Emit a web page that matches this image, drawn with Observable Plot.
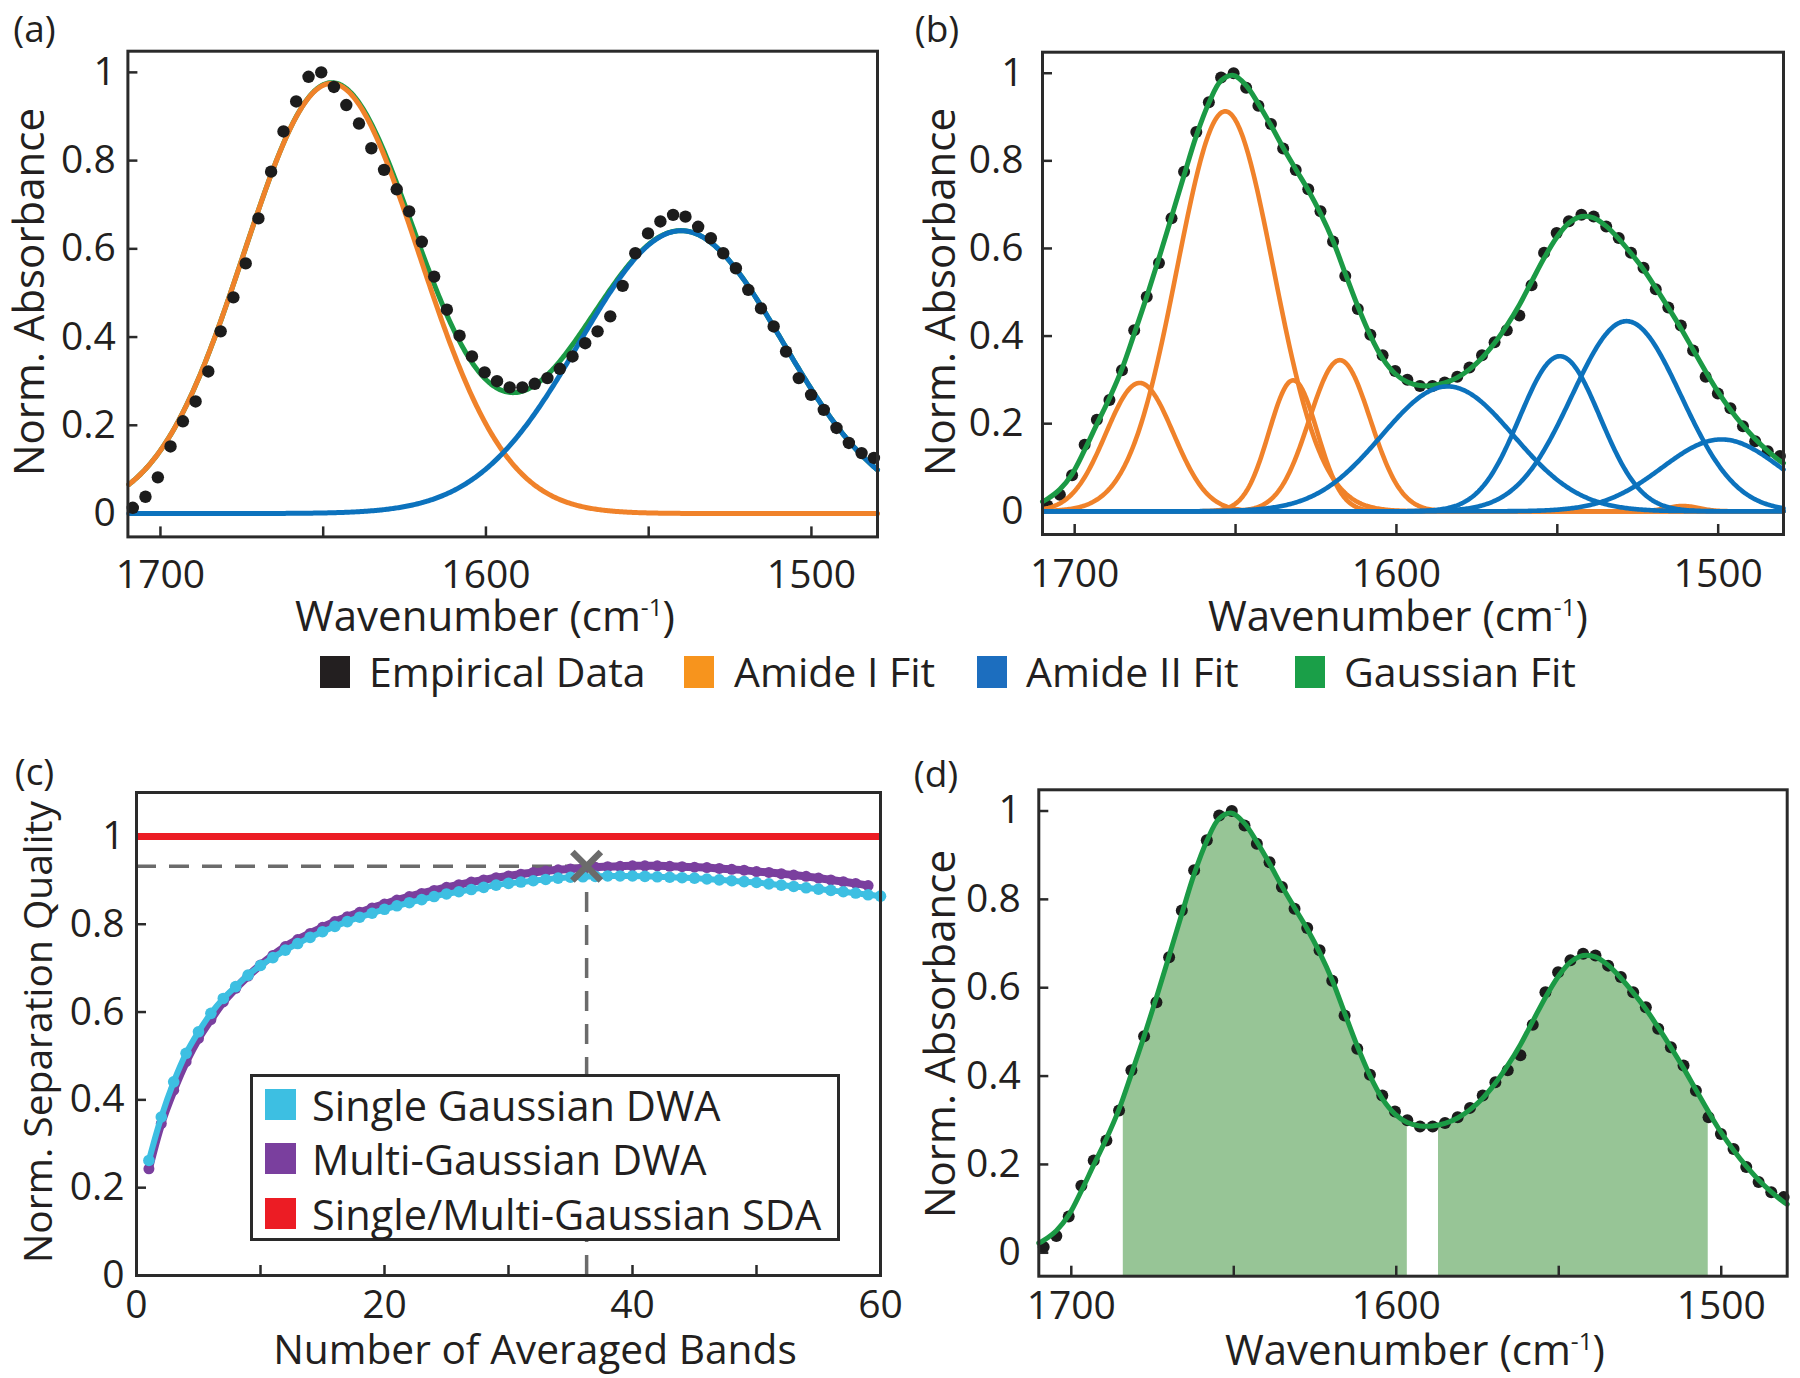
<!DOCTYPE html>
<html>
<head>
<meta charset="utf-8">
<script src="https://cdn.jsdelivr.net/npm/d3@7"></script>
<script src="https://cdn.jsdelivr.net/npm/@observablehq/plot@0.6"></script>
<style>
  html, body { margin: 0; padding: 0; background: #fff; }
  #root { position: relative; width: 1800px; height: 1378px; overflow: hidden; font-family: "Open Sans", sans-serif; color: #231f20; background: #fff; }
  .lbl { position: absolute; white-space: nowrap; line-height: 0.74; transform: translate(-50%, -50%); }
  .rot { transform: translate(-50%, -50%) rotate(-90deg); }
  .lt { position: absolute; white-space: nowrap; line-height: 0.78; transform: translate(0, -50%); }
  .sq { position: absolute; }
  sup { font-size: 0.58em; line-height: 0; vertical-align: 0.62em; }
  svg { position: absolute; }
</style>
</head>
<body>
<div id="root"></div>
<script>
// ---------------- DATA ----------------
// Empirical spectrum (panels a, b, d)
const wavenumbers = [1708.5,1704.6,1700.8,1696.9,1693.1,1689.2,1685.3,1681.5,1677.6,1673.8,1669.9,1666.0,1662.2,1658.3,1654.5,1650.6,1646.7,1642.9,1639.0,1635.2,1631.3,1627.4,1623.6,1619.7,1615.9,1612.0,1608.1,1604.3,1600.4,1596.6,1592.7,1588.8,1585.0,1581.1,1577.3,1573.4,1569.5,1565.7,1561.8,1558.0,1554.1,1550.2,1546.4,1542.5,1538.7,1534.8,1530.9,1527.1,1523.2,1519.4,1515.5,1511.6,1507.8,1503.9,1500.1,1496.2,1492.3,1488.5,1484.6,1480.8];
const absorbance = [0.013,0.038,0.082,0.152,0.209,0.254,0.322,0.413,0.490,0.567,0.669,0.775,0.866,0.934,0.990,1.000,0.967,0.926,0.884,0.828,0.779,0.735,0.685,0.616,0.537,0.462,0.403,0.356,0.320,0.300,0.286,0.286,0.294,0.307,0.328,0.356,0.386,0.413,0.447,0.516,0.590,0.635,0.662,0.677,0.673,0.650,0.624,0.590,0.556,0.507,0.465,0.424,0.367,0.307,0.269,0.235,0.194,0.160,0.137,0.126];

// Multi-Gaussian fit curve (green, panels b and d)
const gaussFitWn = [1710.0,1708.5,1704.6,1700.8,1696.9,1693.1,1689.2,1685.3,1681.5,1677.6,1673.8,1669.9,1666.0,1662.2,1658.3,1654.5,1650.6,1646.7,1642.9,1639.0,1635.2,1631.3,1627.4,1623.6,1619.7,1615.9,1612.0,1608.1,1604.3,1600.4,1596.6,1592.7,1588.8,1585.0,1581.1,1577.3,1573.4,1569.5,1565.7,1561.8,1558.0,1554.1,1550.2,1546.4,1542.5,1538.7,1534.8,1530.9,1527.1,1523.2,1519.4,1515.5,1511.6,1507.8,1503.9,1500.1,1496.2,1492.3,1488.5,1484.6,1480.8,1479.7];
const gaussFitAbs = [0.022,0.028,0.050,0.085,0.140,0.199,0.258,0.325,0.405,0.490,0.578,0.672,0.767,0.857,0.932,0.983,0.995,0.972,0.930,0.881,0.830,0.781,0.733,0.680,0.617,0.543,0.468,0.401,0.349,0.314,0.295,0.287,0.287,0.293,0.305,0.324,0.350,0.384,0.424,0.471,0.524,0.578,0.625,0.658,0.673,0.670,0.651,0.622,0.589,0.552,0.510,0.465,0.418,0.369,0.319,0.273,0.232,0.196,0.165,0.138,0.115,0.110];

// Panel (a): single-Gaussian fit per band (center, height, width)
const aBands   = ["Amide I", "Amide II"];
const aCenters = [1647.5, 1540.0];
const aHeights = [0.975, 0.641];
const aWidths  = [26.8, 31.2];

// Panel (b): multi-Gaussian components (center, height, width)
const bBands   = ["Amide I","Amide I","Amide I","Amide I","Amide I","Amide II","Amide II","Amide II","Amide II"];
const bCenters = [1679.8, 1653.2, 1632.1, 1617.6, 1511.0, 1584.1, 1549.2, 1528.5, 1499.0];
const bHeights = [0.293, 0.913, 0.299, 0.345, 0.012, 0.285, 0.354, 0.434, 0.164];
const bWidths  = [10.5, 15.0, 7.5, 9.5, 5.0, 20.5, 12.5, 17.0, 18.5];

// Panel (d): integrated band regions (start, end, and fit height at the edges)
const shadeFrom    = [1684.0, 1587.0];
const shadeTo      = [1596.6, 1504.0];
const shadeFromAbs = [0.352, 0.289];
const shadeToAbs   = [0.295, 0.316];

// Panel (c): separation quality vs number of averaged bands
const bandCounts = [1,2,3,4,5,6,7,8,9,10,11,12,13,14,15,16,17,18,19,20,21,22,23,24,25,26,27,28,29,30,31,32,33,34,35,36,37,38,39,40,41,42,43,44,45,46,47,48,49,50,51,52,53,54,55,56,57,58,59,60];
const singleDWA = [0.262,0.361,0.441,0.506,0.555,0.597,0.631,0.658,0.684,0.706,0.724,0.741,0.756,0.770,0.783,0.795,0.806,0.816,0.825,0.834,0.842,0.849,0.856,0.863,0.869,0.874,0.879,0.884,0.889,0.893,0.896,0.899,0.902,0.905,0.907,0.908,0.909,0.910,0.910,0.910,0.909,0.908,0.907,0.906,0.905,0.903,0.901,0.899,0.897,0.895,0.892,0.889,0.886,0.883,0.880,0.877,0.874,0.871,0.867,0.864];
const multiDWA = [0.243,0.346,0.422,0.487,0.540,0.583,0.623,0.654,0.682,0.707,0.729,0.749,0.765,0.779,0.793,0.806,0.817,0.827,0.837,0.846,0.855,0.863,0.870,0.877,0.884,0.890,0.896,0.901,0.906,0.910,0.914,0.918,0.921,0.924,0.926,0.928,0.930,0.931,0.932,0.933,0.933,0.933,0.932,0.931,0.930,0.929,0.927,0.925,0.923,0.920,0.918,0.915,0.912,0.909,0.905,0.901,0.897,0.893,0.888];
const sdaQuality = [1.0];
const bestBands = [36.3];
const bestQuality = [0.932];

// Tick labels
const specXLabels = [1700, 1600, 1500];
const specXTicks = [1700, 1650, 1600, 1550, 1500];
const normYTicks = [0, 0.2, 0.4, 0.6, 0.8, 1];
const cXLabels = [0, 20, 40, 60];
const cXTicks = [0, 10, 20, 30, 40, 50, 60];

// Legend entries
const topLegend = ["Empirical Data", "Amide I Fit", "Amide II Fit", "Gaussian Fit"];
const cLegend = ["Single Gaussian DWA", "Multi-Gaussian DWA", "Single/Multi-Gaussian SDA"];

// ---------------- STYLE ----------------
const ORANGE = "#f0822a", BLUE = "#0c72bd", GREEN = "#1b9a45", DOTC = "#1c1c1c";
const FILLG = "#97c596", FRAMEC = "#2a2a2a";
const CYAN = "#3dbfe2", PURPLE = "#7a3f9e", RED = "#ec1c24", GRAY = "#6b6b6b";
const topLegendColors = ["#231f20", "#f7941d", "#1c6ebf", "#1a9f48"];
const cLegendColors = [CYAN, PURPLE, RED];
const X_DOMAIN = [1710.0, 1479.7];
const Y_DOMAIN = [-0.053, 1.048];
const LW = 5;

const root = document.getElementById("root");
const fmtY = d => d === 0 ? "0" : d === 1 ? "1" : d.toFixed(1);
const gauss = (x, c, h, w) => h * Math.exp(-((x - c) ** 2) / (2 * w * w));
const grid = d3.range(X_DOMAIN[1], X_DOMAIN[0] + 0.001, 0.4);

function place(svg, left, top) {
  svg.style.left = left + "px";
  svg.style.top = top + "px";
  root.appendChild(svg);
}
function label(html, cx, cy, size, rot) {
  const d = document.createElement("div");
  d.className = "lbl" + (rot ? " rot" : "");
  d.style.left = cx + "px"; d.style.top = cy + "px"; d.style.fontSize = size + "px";
  d.innerHTML = html;
  root.appendChild(d);
}
function textLeft(html, x, cy, size) {
  const d = document.createElement("div");
  d.className = "lt";
  d.style.left = x + "px"; d.style.top = cy + "px"; d.style.fontSize = size + "px";
  d.textContent = html;
  root.appendChild(d);
}
function square(x, cy, w, h, color) {
  const d = document.createElement("div");
  d.className = "sq";
  d.style.left = x + "px"; d.style.top = (cy - h / 2) + "px";
  d.style.width = w + "px"; d.style.height = h + "px"; d.style.background = color;
  root.appendChild(d);
}
const baseStyle = { fontFamily: '"Open Sans", sans-serif', fontSize: "39px", color: "#231f20", background: "transparent", overflow: "visible" };

// frame in page coords -> plot options
function layout(svgLeft, svgTop, W, H, fl, fr, ft, fb) {
  return { width: W, height: H, marginLeft: fl - svgLeft, marginRight: svgLeft + W - fr, marginTop: ft - svgTop, marginBottom: svgTop + H - fb, fw: fr - fl, fh: fb - ft };
}
function specAxes(L, padX, padY) {
  return [
    Plot.tickX(specXTicks, { x: d => d, insetTop: L.fh - 10, stroke: FRAMEC, strokeWidth: 2.5 }),
    Plot.tickY(normYTicks, { y: d => d, insetRight: L.fw - 10, stroke: FRAMEC, strokeWidth: 2.5 }),
    Plot.axisX(specXLabels, { tickSize: 0, tickPadding: padX, tickFormat: d => String(d), label: null }),
    Plot.axisY(normYTicks, { tickSize: 0, tickPadding: padY, tickFormat: fmtY, label: null })
  ];
}

// ---------------- PANEL (a) ----------------
{
  const L = layout(0, 0, 900, 650, 127.4, 877, 50.7, 536.4);
  const comps = aCenters.map((c, i) => grid.map(x => ({ x, y: gauss(x, c, aHeights[i], aWidths[i]) })));
  const sum = grid.map((x, k) => ({ x, y: comps[0][k].y + comps[1][k].y }));
  const svg = Plot.plot({
    width: L.width, height: L.height,
    marginLeft: L.marginLeft, marginRight: L.marginRight, marginTop: L.marginTop, marginBottom: L.marginBottom,
    style: baseStyle,
    x: { domain: X_DOMAIN },
    y: { domain: Y_DOMAIN },
    marks: [
      ...specAxes(L, 23, 12),
      Plot.line(sum, { x: "x", y: "y", stroke: GREEN, strokeWidth: LW }),
      Plot.line(comps[0], { x: "x", y: "y", stroke: ORANGE, strokeWidth: LW }),
      Plot.line(comps[1], { x: "x", y: "y", stroke: BLUE, strokeWidth: LW }),
      Plot.dot(wavenumbers, { x: wavenumbers, y: absorbance, r: 6.2, fill: DOTC, stroke: "none" }),
      Plot.frame({ stroke: FRAMEC, strokeWidth: 3 })
    ]
  });
  place(svg, 0, 0);
}

// ---------------- PANEL (b) ----------------
{
  const L = layout(900, 0, 900, 650, 1042, 1783, 51.7, 534);
  const comps = bCenters.flatMap((c, i) => grid.map(x => ({ x, y: gauss(x, c, bHeights[i], bWidths[i]), id: i, band: bBands[i] })));
  const svg = Plot.plot({
    width: L.width, height: L.height,
    marginLeft: L.marginLeft, marginRight: L.marginRight, marginTop: L.marginTop, marginBottom: L.marginBottom,
    style: baseStyle,
    x: { domain: X_DOMAIN },
    y: { domain: Y_DOMAIN },
    marks: [
      ...specAxes(L, 25, 19),
      Plot.dot(wavenumbers, { x: wavenumbers, y: absorbance, r: 6, fill: DOTC, stroke: "none" }),
      Plot.line(gaussFitWn, { x: gaussFitWn, y: gaussFitAbs, stroke: GREEN, strokeWidth: LW, curve: "catmull-rom" }),
      Plot.line(comps.filter(d => d.band === "Amide I"), { x: "x", y: "y", z: "id", stroke: ORANGE, strokeWidth: 4.6 }),
      Plot.line(comps.filter(d => d.band === "Amide II"), { x: "x", y: "y", z: "id", stroke: BLUE, strokeWidth: 4.6 }),
      Plot.frame({ stroke: FRAMEC, strokeWidth: 3 })
    ]
  });
  place(svg, 900, 0);
}

// ---------------- PANEL (c) ----------------
{
  const L = layout(0, 700, 900, 678, 136, 880, 792, 1275);
  const svg = Plot.plot({
    width: L.width, height: L.height,
    marginLeft: L.marginLeft, marginRight: L.marginRight, marginTop: L.marginTop, marginBottom: L.marginBottom,
    style: baseStyle,
    x: { domain: [0, 60] },
    y: { domain: [0, 1.1] },
    marks: [
      Plot.tickX(cXTicks, { x: d => d, insetTop: L.fh - 10, stroke: FRAMEC, strokeWidth: 2.5 }),
      Plot.tickY(normYTicks, { y: d => d, insetRight: L.fw - 10, stroke: FRAMEC, strokeWidth: 2.5 }),
      Plot.axisX(cXLabels, { tickSize: 0, tickPadding: 15, tickFormat: d => String(d), label: null }),
      Plot.axisY(normYTicks, { tickSize: 0, tickPadding: 12, tickFormat: fmtY, label: null }),
      Plot.ruleY(sdaQuality, { y: d => d, stroke: RED, strokeWidth: 7 }),
      Plot.ruleY(bestQuality, { y: d => d, x1: 0, x2: bestBands[0], stroke: GRAY, strokeWidth: 3.5, strokeDasharray: "20,13" }),
      Plot.ruleX(bestBands, { x: d => d, y1: 0, y2: bestQuality[0], stroke: GRAY, strokeWidth: 3.5, strokeDasharray: "20,13" }),
      Plot.line(multiDWA, { x: bandCounts.slice(0, multiDWA.length), y: multiDWA, stroke: PURPLE, strokeWidth: 8, curve: "catmull-rom" }),
      Plot.dot(multiDWA, { x: bandCounts.slice(0, multiDWA.length), y: multiDWA, r: 5.5, fill: PURPLE, stroke: "none" }),
      Plot.line(singleDWA, { x: bandCounts, y: singleDWA, stroke: CYAN, strokeWidth: 6, curve: "catmull-rom" }),
      Plot.dot(singleDWA, { x: bandCounts, y: singleDWA, r: 5.8, fill: CYAN, stroke: "none" }),
      Plot.dot(bestBands, { x: d => d, y: bestQuality, symbol: "times", r: 13, stroke: GRAY, strokeWidth: 6.5 }),
      Plot.frame({ stroke: FRAMEC, strokeWidth: 3 })
    ]
  });
  place(svg, 0, 700);
}

// ---------------- PANEL (d) ----------------
{
  const L = layout(900, 700, 900, 678, 1038.3, 1786.7, 789.3, 1275.7);
  const fit = gaussFitWn.map((x, i) => ({ x, y: gaussFitAbs[i] }));
  const shades = shadeFrom.flatMap((from, k) => {
    const to = shadeTo[k];
    const inner = fit.filter(d => d.x < from && d.x > to);
    return [{ x: from, y: shadeFromAbs[k], k }, ...inner.map(d => ({ ...d, k })), { x: to, y: shadeToAbs[k], k }];
  });
  const svg = Plot.plot({
    width: L.width, height: L.height,
    marginLeft: L.marginLeft, marginRight: L.marginRight, marginTop: L.marginTop, marginBottom: L.marginBottom,
    style: baseStyle,
    x: { domain: X_DOMAIN },
    y: { domain: Y_DOMAIN },
    marks: [
      Plot.areaY(shades, { x: "x", y1: Y_DOMAIN[0], y2: "y", z: "k", fill: FILLG, curve: "catmull-rom" }),
      ...specAxes(L, 15, 18),
      Plot.dot(wavenumbers, { x: wavenumbers, y: absorbance, r: 6, fill: DOTC, stroke: "none" }),
      Plot.line(fit, { x: "x", y: "y", stroke: GREEN, strokeWidth: LW, curve: "catmull-rom" }),
      Plot.frame({ stroke: FRAMEC, strokeWidth: 3 })
    ]
  });
  place(svg, 900, 700);
}

// ---------------- TEXT ----------------
label("(a)", 34.5, 28, 37);
label("(b)", 937, 28, 37);
label("(c)", 34.5, 771, 37);
label("(d)", 936, 773, 37);

const wnTitle = "Wavenumber (cm<sup>-1</sup>)";
label(wnTitle, 485, 615, 42);
label(wnTitle, 1398, 615, 42);
label("Number of Averaged Bands", 535, 1348, 40.7);
label(wnTitle, 1415, 1349, 42);

label("Norm. Absorbance", 28, 292, 42, true);
label("Norm. Absorbance", 939, 292, 42, true);
label("Norm. Separation Quality", 37, 1032, 39, true);
label("Norm. Absorbance", 939, 1034, 42, true);

// top legend
const topSqX = [320, 684, 977, 1295];
const topTxX = [369, 734, 1026, 1344];
topLegend.forEach((t, i) => { square(topSqX[i], 672, 30, 32, topLegendColors[i]); textLeft(t, topTxX[i], 672, 41); });

// panel (c) legend box
{
  const box = document.createElement("div");
  box.style.cssText = "position:absolute;left:250px;top:1074px;width:584px;height:161px;border:3px solid " + FRAMEC + ";background:#fff;";
  root.appendChild(box);
  const rowsY = [1104.5, 1158.5, 1213.5];
  cLegend.forEach((t, i) => { square(265, rowsY[i], 31, 31, cLegendColors[i]); textLeft(t, 312, rowsY[i], 41.5); });
}
</script>
</body>
</html>
